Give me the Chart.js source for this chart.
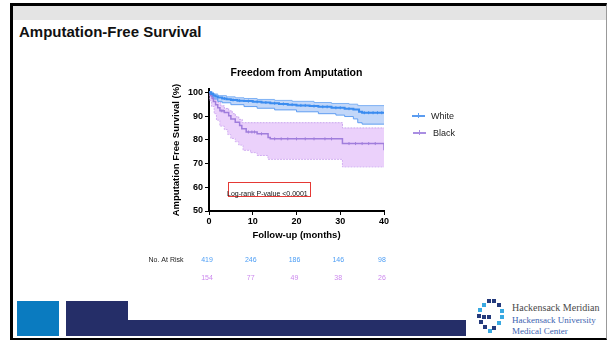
<!DOCTYPE html>
<html lang="en">
<head>
    <meta charset="UTF-8">
    <title>Amputation-Free Survival</title>
    <script src="https://cdn.jsdelivr.net/npm/chart.js@4.4.0/dist/chart.umd.min.js"></script>
    <style>
        body { margin: 0; width: 608px; height: 341px; background: #fff; position: relative; overflow: hidden; font-family: "Liberation Sans", Arial, sans-serif; }
        .abs { position: absolute; }
        #frame { left: 10px; top: 3px; width: 597px; height: 337px; box-sizing: border-box; border-top: 3px solid #000; border-left: 3px solid #000; border-bottom: 2px solid #000; border-right: 1px solid #999; }
        #band { left: 13px; top: 6px; width: 593px; height: 14px; background: #e4e4e4; }
        #title { left: 19px; top: 24px; font-size: 15px; line-height: 15px; font-weight: bold; color: #111; white-space: nowrap; }
        .leg { font-size: 9px; line-height: 9px; color: #222; white-space: nowrap; }
        .sym { width: 13px; height: 1.5px; }
        .sym i { position: absolute; left: 6px; top: -2px; width: 1px; height: 5px; }
        #pbox { left: 228px; top: 182px; width: 83px; height: 15px; box-sizing: border-box; border: 1px solid #e53935; }
        #ptext { left: 227px; top: 190px; font-size: 7px; line-height: 7px; color: #111; white-space: nowrap; }
        .logo-t { font-family: "Liberation Serif", "DejaVu Serif", serif; font-size: 9px; line-height: 10px; white-space: nowrap; }
    </style>
</head>
<body>
    <div class="abs" id="frame"></div>
    <div class="abs" id="band"></div>
    <div class="abs" id="title">Amputation-Free Survival</div>

    <canvas id="myChart" class="abs" width="305" height="235" style="left:140px; top:60px;"></canvas>

    <div class="abs sym" style="left:412px; top:115px; background:#5b9cf0;"><i style="background:#5b9cf0"></i></div>
    <div class="abs leg" style="left:431px; top:112px;">White</div>
    <div class="abs sym" style="left:413px; top:132px; background:#a98ee2;"><i style="background:#a98ee2"></i></div>
    <div class="abs leg" style="left:433px; top:129px;">Black</div>

    <div class="abs" id="pbox"></div>
    <div class="abs" id="ptext">Log-rank P-value &lt;0.0001</div>

    <div class="abs" style="left:17px; top:301px; width:42px; height:35px; background:#0a7bc0;"></div>
    <div class="abs" style="left:66px; top:301px; width:62px; height:35px; background:#252e68;"></div>
    <div class="abs" style="left:66px; top:320px; width:400px; height:16px; background:#252e68;"></div>

    <div class="abs" id="logo" style="left:477px; top:299px; width:28px; height:34px;"></div>
    <div class="abs logo-t" style="left:512px; top:303px; color:#4a4a4a; font-size:10px;">Hackensack Meridian</div>
    <div class="abs logo-t" style="left:512px; top:315px; color:#3d63b0;">Hackensack University</div>
    <div class="abs logo-t" style="left:512px; top:326px; color:#3d63b0;">Medical Center</div>
</body>
<script>
    // Kaplan-Meier steps (months, % free of amputation)
    let whiteX = [0, 0.5, 1, 1.5, 2, 3, 4, 5, 6.5, 8, 10, 12, 14, 16, 18, 20, 23, 25, 28, 31, 33, 34.3, 35, 40]
    let whiteY = [100, 99.3, 98.7, 98.2, 97.8, 97.4, 97.1, 96.8, 96.5, 96.3, 96.0, 95.7, 95.4, 95.1, 94.8, 94.5, 94.2, 93.9, 93.5, 93.1, 92.8, 91.8, 91.4, 91.3]
    let whiteUpX = [0, 1, 2, 4, 6, 8, 11, 15, 19, 24, 28, 32, 34, 40]
    let whiteUpY = [100, 99.3, 98.6, 98.1, 97.7, 97.4, 97.0, 96.6, 96.2, 95.7, 95.3, 95.0, 94.4, 94.2]
    let whiteLoX = [0, 0.5, 1, 2, 3, 5, 8, 11, 15, 20, 25, 29, 31, 33, 34, 35, 40]
    let whiteLoY = [100, 98.2, 97.2, 96.2, 95.6, 94.8, 94.0, 93.3, 92.6, 91.8, 91.0, 90.4, 89.8, 88.8, 87.2, 86.6, 86.6]
    let whiteCensX = [3.5, 5.5, 7, 9, 11, 13, 15, 17, 19, 21, 22, 24, 26, 27, 29, 30, 32, 35.5, 36.5, 37.5, 38.5, 39.5]
    let whiteCensY = [97.4, 96.8, 96.5, 96.3, 96.0, 95.7, 95.4, 95.1, 94.8, 94.5, 94.5, 94.2, 93.9, 93.9, 93.5, 93.5, 93.1, 91.4, 91.4, 91.4, 91.4, 91.4]

    let blackX = [0, 0.3, 0.7, 1, 1.5, 2, 2.5, 3.5, 4.5, 5, 6, 7, 7.5, 8.5, 11, 13.5, 14, 30.5, 40]
    let blackY = [100, 98.7, 97.4, 96.1, 94.8, 93.5, 92.2, 91.5, 90.1, 88.8, 87.4, 86.0, 84.7, 83.3, 82.5, 81.0, 80.4, 78.4, 75.6]
    let blackUpX = [0, 0.3, 0.8, 1.3, 2, 2.7, 3.5, 4.5, 5.3, 6, 6.8, 7.6, 30.5, 40]
    let blackUpY = [100, 99.5, 98.5, 97.2, 95.8, 94.3, 93.2, 92.2, 91.0, 89.7, 88.6, 87.2, 85.0, 85.0]
    let blackLoX = [0, 0.2, 0.6, 1.2, 1.7, 2.5, 3.5, 4.3, 5, 6, 6.8, 7.8, 9.5, 11, 13.5, 30.5, 40]
    let blackLoY = [100, 96.5, 94, 91, 88.3, 85.8, 84.3, 82.2, 80.6, 79.2, 77.8, 75.6, 74.6, 73.4, 71.8, 68.6, 68.6]
    let blackCensX = [2.8, 3.2, 9, 9.8, 10.4, 12, 15, 16.5, 18, 20, 22, 24, 26.5, 28, 32, 33.5, 35, 36.5, 38]
    let blackCensY = [92.2, 92.2, 83.3, 83.3, 83.3, 82.5, 80.4, 80.4, 80.4, 80.4, 80.4, 80.4, 80.4, 80.4, 78.4, 78.4, 78.4, 78.4, 78.4]

    // numbers at risk table
    let riskTimes = [0, 10, 20, 30, 40]
    let whiteRisk = [419, 246, 186, 146, 98]
    let blackRisk = [154, 77, 49, 38, 26]

    let yTicks = [50, 60, 70, 80, 90, 100]
    let xTicks = [0, 10, 20, 30, 40]

    const pts = (xs, ys) => xs.map((x, i) => ({ x: x, y: ys[i] }))

    // little ring of squares for the logo
    let logo = document.getElementById('logo')
    let sq = [[10,0,'#243a7c'],[15,0,'#243a7c'],[5,4,'#39a9e1'],[20,4,'#243a7c'],[1,9,'#39a9e1'],[23,10,'#39a9e1'],
              [0,15,'#243a7c'],[5,16,'#243a7c'],[10,16,'#243a7c'],[23,16,'#39a9e1'],[2,21,'#243a7c'],[20,22,'#39a9e1'],
              [6,26,'#243a7c'],[15,27,'#243a7c'],[11,30,'#39a9e1']]
    sq.forEach(s => {
        let d = document.createElement('div')
        d.className = 'abs'
        d.style.cssText = 'left:' + s[0] + 'px;top:' + s[1] + 'px;width:4px;height:4px;background:' + s[2]
        logo.appendChild(d)
    })

    const riskTable = {
        id: 'riskTable',
        afterDraw(chart) {
            let ctx = chart.ctx
            let xs = chart.scales.x
            ctx.save()
            ctx.font = '7px "Liberation Sans", Arial, sans-serif'
            ctx.textBaseline = 'middle'
            ctx.textAlign = 'right'
            ctx.fillStyle = '#222'
            ctx.fillText('No. At Risk', 43.5, 200)
            ctx.textAlign = 'center'
            riskTimes.forEach((t, i) => {
                let px = xs.getPixelForValue(t) - 2
                ctx.fillStyle = '#4d9ef5'
                ctx.fillText(whiteRisk[i], px, 200)
                ctx.fillStyle = '#cc88ee'
                ctx.fillText(blackRisk[i], px, 218.5)
            })
            ctx.restore()
        }
    }

    Chart.defaults.font.family = '"Liberation Sans", Arial, sans-serif'
    Chart.defaults.color = '#000'

    let ctx = document.getElementById('myChart').getContext('2d')
    let chart = new Chart(ctx, {
        type: 'line',
        data: {
            datasets: [{
                label: 'White',
                data: pts(whiteX, whiteY),
                borderColor: '#3a8cf0',
                borderWidth: 2,
                stepped: true,
                pointRadius: 0,
                fill: false
            }, {
                label: 'Black',
                data: pts(blackX, blackY),
                borderColor: '#a07ddc',
                borderWidth: 1.5,
                stepped: true,
                pointRadius: 0,
                fill: false
            }, {
                label: 'White censored',
                data: pts(whiteCensX, whiteCensY),
                showLine: false,
                pointStyle: 'line',
                rotation: 90,
                pointRadius: 1.5,
                pointBorderWidth: 1,
                borderColor: '#3a8cf0'
            }, {
                label: 'Black censored',
                data: pts(blackCensX, blackCensY),
                showLine: false,
                pointStyle: 'line',
                rotation: 90,
                pointRadius: 1.5,
                pointBorderWidth: 1,
                borderColor: '#a07ddc'
            }, {
                label: 'White upper',
                data: pts(whiteUpX, whiteUpY),
                borderColor: '#7fb2f5',
                borderWidth: 1,
                stepped: true,
                pointRadius: 0,
                fill: '+1',
                backgroundColor: 'rgba(110, 160, 240, 0.42)'
            }, {
                label: 'White lower',
                data: pts(whiteLoX, whiteLoY),
                borderColor: '#5d9ef2',
                borderWidth: 1,
                stepped: true,
                pointRadius: 0,
                fill: false
            }, {
                label: 'Black upper',
                data: pts(blackUpX, blackUpY),
                borderColor: '#c9a5ee',
                borderWidth: 1,
                borderDash: [2, 1],
                stepped: true,
                pointRadius: 0,
                fill: '+1',
                backgroundColor: 'rgba(226, 190, 250, 0.7)'
            }, {
                label: 'Black lower',
                data: pts(blackLoX, blackLoY),
                borderColor: '#c9a5ee',
                borderWidth: 1,
                borderDash: [2, 1],
                stepped: true,
                pointRadius: 0,
                fill: false
            }]
        },
        options: {
            responsive: false,
            animation: false,
            layout: { padding: { left: 0, right: 61, top: 0, bottom: 52 } },
            plugins: {
                legend: { display: false },
                tooltip: { enabled: false },
                title: {
                    display: true,
                    text: 'Freedom from Amputation',
                    fullSize: false,
                    color: '#000',
                    font: { size: 10.5, weight: 'bold' },
                    padding: { top: 7, bottom: 9.4 }
                }
            },
            scales: {
                x: {
                    type: 'linear',
                    min: 0,
                    max: 40,
                    afterBuildTicks: s => { s.ticks = xTicks.map(v => ({ value: v })) },
                    afterFit: s => { s.height = 32 },
                    ticks: { font: { size: 9, weight: 'bold' }, padding: 1, color: '#000' },
                    grid: { drawOnChartArea: false, drawTicks: true, tickLength: 4, color: '#000' },
                    border: { color: '#000', width: 2 },
                    title: {
                        display: true,
                        text: 'Follow-up (months)',
                        font: { size: 9.5, weight: 'bold' },
                        padding: { top: 0, bottom: 2 }
                    }
                },
                y: {
                    min: 50,
                    max: 101.4,
                    afterBuildTicks: s => { s.ticks = yTicks.map(v => ({ value: v })) },
                    afterFit: s => { s.width = 69 },
                    ticks: { font: { size: 9, weight: 'bold' }, padding: 2, color: '#000' },
                    grid: { drawOnChartArea: false, drawTicks: true, tickLength: 4, color: '#000' },
                    border: { color: '#000', width: 2 },
                    title: {
                        display: true,
                        text: 'Amputation Free Survival (%)',
                        font: { size: 9.5, weight: 'bold' },
                        padding: { top: 31, bottom: 0 }
                    }
                }
            }
        },
        plugins: [riskTable]
    })
</script>
</html>
